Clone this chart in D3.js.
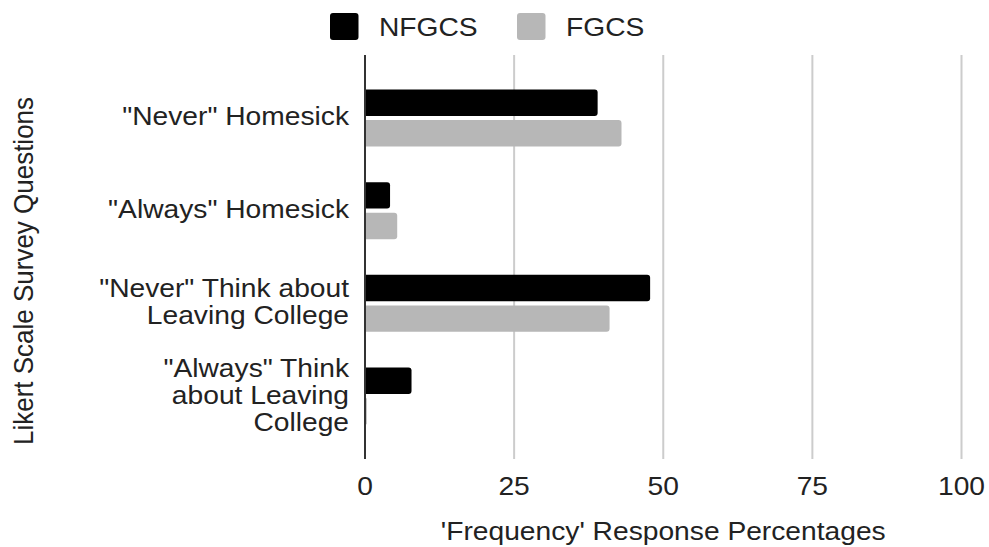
<!DOCTYPE html>
<html>
<head>
<meta charset="utf-8">
<script src="https://cdn.jsdelivr.net/npm/d3@7"></script>
<style>
  body { margin: 0; background: #fff; }
  svg { display: block; }
  text { font-family: "Liberation Sans", Arial, Helvetica, sans-serif; fill: #222; }
</style>
</head>
<body>
<svg id="chart" width="989" height="547"></svg>
<script>
// Survey questions (each entry holds the wrapped lines of its label)
const categories = [
  ['"Never" Homesick'],
  ['"Always" Homesick'],
  ['"Never" Think about', 'Leaving College'],
  ['"Always" Think', 'about Leaving', 'College']
];
const seriesNames = ["NFGCS", "FGCS"];
// Percent of respondents per question
const nfgcsValues = [39.0, 4.2, 47.8, 7.8];
const fgcsValues  = [43.0, 5.4, 41.0, 0.3];
const xTicks = [0, 25, 50, 75, 100];
const xTitle = "'Frequency' Response Percentages";
const yTitle = "Likert Scale Survey Questions";

const seriesColors = { NFGCS: "#000000", FGCS: "#b7b7b7" };

const FONT = 26;
const STRETCH = 1.085;   // glyphs are slightly wide
const LINE = 27;

const svg = d3.select("#chart");
const plot = { left: 365, right: 961.5, top: 55, bottom: 459 };

const keys = categories.map((c, i) => "q" + i);
const rows = keys.map((k, i) => ({ key: k, lines: categories[i], NFGCS: nfgcsValues[i], FGCS: fgcsValues[i] }));

const x = d3.scaleLinear().domain([0, 100]).range([plot.left, plot.right]);
const y = d3.scaleBand().domain(keys).range([plot.top, plot.bottom]).paddingOuter(0.179).paddingInner(0);
const inner = d3.scaleBand().domain(seriesNames).range([-28.5, 28.5]).paddingInner(0.135);

function stretched(sel, tx, ty) {
  return sel.attr("transform", (d, i) => {
    const px = typeof tx === "function" ? tx(d, i) : tx;
    const py = typeof ty === "function" ? ty(d, i) : ty;
    return `translate(${px},${py}) scale(${STRETCH},1)`;
  });
}

// vertical gridlines
svg.append("g")
  .selectAll("line")
  .data(xTicks.filter(t => t !== 0))
  .join("line")
  .attr("x1", d => x(d)).attr("x2", d => x(d))
  .attr("y1", plot.top).attr("y2", plot.bottom)
  .attr("stroke", "#cccccc").attr("stroke-width", 2);

// baseline at zero
svg.append("line")
  .attr("x1", x(0)).attr("x2", x(0))
  .attr("y1", plot.top).attr("y2", plot.bottom)
  .attr("stroke", "#333333").attr("stroke-width", 2);

// bars with rounded right end
function barPath(x0, x1, y0, h, r) {
  const w = x1 - x0;
  if (w <= 0) return "";
  const rr = Math.min(r, w, h / 2);
  return `M${x0},${y0}H${x1 - rr}Q${x1},${y0} ${x1},${y0 + rr}V${y0 + h - rr}Q${x1},${y0 + h} ${x1 - rr},${y0 + h}H${x0}Z`;
}

const groups = svg.append("g").selectAll("g")
  .data(rows)
  .join("g")
  .attr("transform", d => `translate(0,${y(d.key) + y.bandwidth() / 2})`);

groups.selectAll("path")
  .data(d => seriesNames.map(s => ({ s, v: d[s] })))
  .join("path")
  .attr("d", d => barPath(x(0) + 1, x(d.v), inner(d.s), inner.bandwidth(), 3))
  .attr("fill", d => seriesColors[d.s]);

// category labels
const catLabels = svg.append("g").selectAll("text")
  .data(rows)
  .join("text")
  .attr("text-anchor", "end")
  .attr("font-size", FONT);
stretched(catLabels, 349, d => y(d.key) + y.bandwidth() / 2);
catLabels.selectAll("tspan")
  .data(d => d.lines.map((t, i) => ({ t, i, n: d.lines.length })))
  .join("tspan")
  .attr("x", 0)
  .attr("y", d => (d.i - (d.n - 1) / 2) * LINE)
  .attr("dy", "0.29em")
  .text(d => d.t);

// x tick labels
const tickLabels = svg.append("g").selectAll("text")
  .data(xTicks)
  .join("text")
  .attr("text-anchor", "middle")
  .attr("font-size", FONT)
  .attr("dy", "0.35em")
  .text(d => d3.format("d")(d));
stretched(tickLabels, d => x(d), 486);

// axis titles
stretched(svg.append("text")
  .attr("text-anchor", "middle")
  .attr("font-size", FONT)
  .attr("dy", "0.35em")
  .text(xTitle), (plot.left + plot.right) / 2, 531);

svg.append("text")
  .attr("text-anchor", "middle")
  .attr("font-size", FONT)
  .attr("dy", "0.35em")
  .attr("transform", `translate(23,271) scale(${STRETCH},1) rotate(-90)`)
  .text(yTitle);

// legend
const legendItems = [
  { name: seriesNames[0], sx: 330, tx: 379 },
  { name: seriesNames[1], sx: 517, tx: 566 }
];
const lg = svg.append("g");
lg.selectAll("rect")
  .data(legendItems)
  .join("rect")
  .attr("x", d => d.sx).attr("y", 13)
  .attr("width", 28.5).attr("height", 27)
  .attr("rx", 3)
  .attr("fill", d => seriesColors[d.name]);
stretched(lg.selectAll("text")
  .data(legendItems)
  .join("text")
  .attr("font-size", FONT)
  .attr("dy", "0.35em")
  .text(d => d.name), d => d.tx, 26.5);
</script>
</body>
</html>
